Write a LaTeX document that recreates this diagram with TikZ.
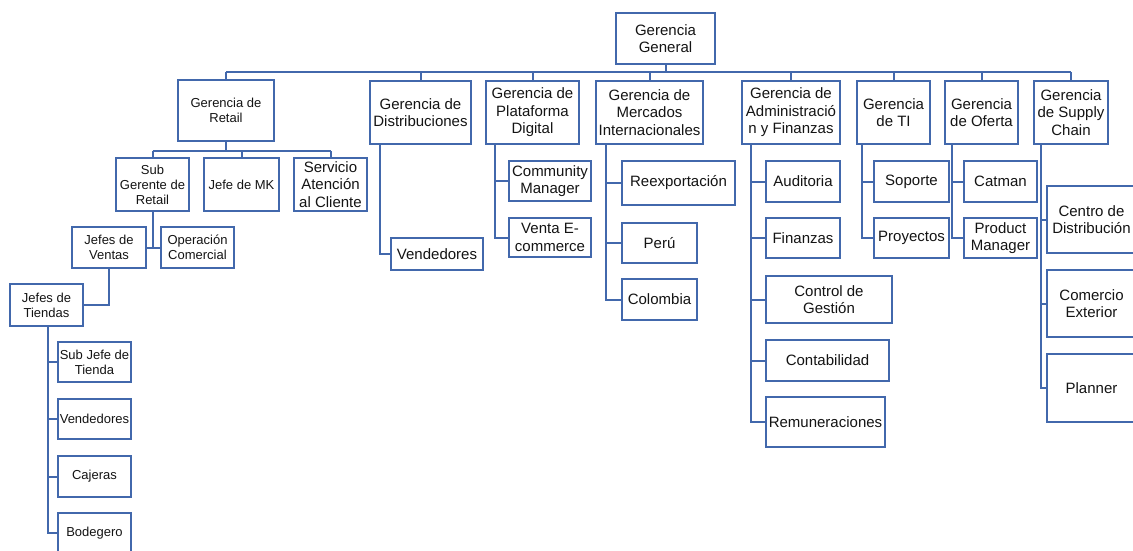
\documentclass[tikz,border=0pt]{standalone}
\usepackage{fontspec}
\setmainfont{Liberation Sans}
\definecolor{orgblue}{RGB}{66,104,172}
\definecolor{orgtext}{RGB}{20,20,20}
\tikzset{
  unit/.style={draw=orgblue, line width=2pt, fill=white, inner sep=0pt,
    align=center, text=orgtext, font=\fontsize{15}{17.5}\selectfont},
  smallunit/.style={unit, font=\fontsize{13}{15}\selectfont},
  link/.style={draw=orgblue, line width=2pt},
  sz/.style 2 args={minimum width=#1, minimum height=#2}
}
\begin{document}
\begin{tikzpicture}[x=1pt,y=-1pt]
\fill[white] (0,0) rectangle (1133,550);
\clip (0,0) rectangle (1133,550);

% top level
\node[unit, sz={99pt}{51pt}] (gg) at (665.5,38.5) {Gerencia\\General};

% Retail branch
\node[smallunit, sz={96pt}{61pt}] (retail) at (226,110.5) {Gerencia de\\Retail};
\node[smallunit, sz={73pt}{53pt}] (subg) at (152.5,184.5) {Sub\\Gerente de\\Retail};
\node[smallunit, sz={75pt}{53pt}] (mk) at (241.5,184.5) {Jefe de MK};
\node[unit, sz={73pt}{53pt}] (serv) at (330.5,184.5) {Servicio\\Atención\\al Cliente};
\node[smallunit, sz={74pt}{41pt}] (jv) at (109,247.5) {Jefes de\\Ventas};
\node[smallunit, sz={73pt}{41pt}] (oc) at (197.5,247.5) {Operación\\Comercial};
\node[smallunit, sz={73pt}{42pt}] (jt) at (46.5,305) {Jefes de\\Tiendas};
\node[smallunit, sz={73pt}{40pt}] (sjt) at (94.5,362) {Sub Jefe de\\Tienda};
\node[smallunit, sz={73pt}{40pt}] (vend1) at (94.5,419) {Vendedores};
\node[smallunit, sz={73pt}{41pt}] (caj) at (94.5,476.5) {Cajeras};
\node[smallunit, sz={73pt}{40pt}] (bod) at (94.5,533) {Bodegero};

% Distribuciones
\node[unit, sz={101pt}{63pt}] (dist) at (420.5,112.5) {Gerencia de\\Distribuciones};
\node[unit, sz={92pt}{32pt}] (vend2) at (437,254) {Vendedores};

% Plataforma Digital
\node[unit, sz={93pt}{63pt}] (plat) at (532.5,112.5) {Gerencia de\\Plataforma\\Digital};
\node[unit, sz={82pt}{40pt}] (cm) at (550,181) {Community\\Manager};
\node[unit, sz={82pt}{39pt}] (ve) at (550,237.5) {Venta E-\\commerce};

% Mercados Internacionales
\node[unit, sz={107pt}{63pt}] (merc) at (649.5,112.5) {Gerencia de\\Mercados\\Internacionales};
\node[unit, sz={113pt}{44pt}] (reex) at (678.5,183) {Reexportación};
\node[unit, sz={75pt}{40pt}] (peru) at (659.5,243) {Perú};
\node[unit, sz={75pt}{41pt}] (col) at (659.5,299.5) {Colombia};

% Administración y Finanzas
\node[unit, sz={98pt}{63pt}] (adm) at (791,112.5) {Gerencia de\\Administració\\n y Finanzas};
\node[unit, sz={74pt}{41pt}] (aud) at (803,181.5) {Auditoria};
\node[unit, sz={74pt}{40pt}] (fin) at (803,238) {Finanzas};
\node[unit, sz={126pt}{47pt}] (cg) at (829,299.5) {Control de\\Gestión};
\node[unit, sz={123pt}{41pt}] (cont) at (827.5,360.5) {Contabilidad};
\node[unit, sz={119pt}{50pt}] (rem) at (825.5,422) {Remuneraciones};

% TI
\node[unit, sz={73pt}{63pt}] (ti) at (893.5,112.5) {Gerencia\\de TI};
\node[unit, sz={75pt}{41pt}] (sop) at (911.5,181.5) {Soporte};
\node[unit, sz={75pt}{40pt}] (proy) at (911.5,238) {Proyectos};

% Oferta
\node[unit, sz={73pt}{63pt}] (of) at (981.5,112.5) {Gerencia\\de Oferta};
\node[unit, sz={73pt}{41pt}] (cat) at (1000.5,181.5) {Catman};
\node[unit, sz={73pt}{40pt}] (pm) at (1000.5,238) {Product\\Manager};

% Supply Chain
\node[unit, sz={74pt}{63pt}] (sc) at (1071,112.5) {Gerencia\\de Supply\\Chain};
\node[unit, sz={89pt}{67pt}] (cd) at (1091.5,219.5) {Centro de\\Distribución};
\node[unit, sz={89pt}{67pt}] (ce) at (1091.5,303.5) {Comercio\\Exterior};
\node[unit, sz={89pt}{68pt}] (pl) at (1091.5,388) {Planner};

% main bus
\coordinate (bus) at (0,72);
\draw[link] (gg.south) -- (gg.south |- bus);
\draw[link] (retail.north |- bus) -- (sc.north |- bus);
\foreach \n in {retail,dist,plat,merc,adm,ti,of,sc}
  \draw[link] (\n.north |- bus) -- (\n.north);

% retail connectors
\coordinate (rbus) at (0,151);
\draw[link] (retail.south) -- (retail.south |- rbus);
\draw[link] (subg.north |- rbus) -- (serv.north |- rbus);
\foreach \n in {subg,mk,serv}
  \draw[link] (\n.north |- rbus) -- (\n.north);
\draw[link] (subg.south) -- (subg.south |- jv.east);
\draw[link] (jv.east) -- (oc.west);
\draw[link] (jv.south) -- (jv.south |- jt.east) -- (jt.east);
\draw[link] (jt.south) ++(1.5,0) coordinate (jtl) -- (jtl |- bod.west) -- (bod.west);
\foreach \n in {sjt,vend1,caj}
  \draw[link] (jtl |- \n.west) -- (\n.west);

% distribuciones
\draw[link] (dist.south west) ++(11,0) coordinate (dl) -- (dl |- vend2.west) -- (vend2.west);

% plataforma digital
\draw[link] (plat.south west) ++(10,0) coordinate (pll) -- (pll |- ve.west) -- (ve.west);
\draw[link] (pll |- cm.west) -- (cm.west);

% mercados internacionales
\draw[link] (merc.south west) ++(11,0) coordinate (ml) -- (ml |- col.west) -- (col.west);
\foreach \n in {reex,peru}
  \draw[link] (ml |- \n.west) -- (\n.west);

% administración y finanzas
\draw[link] (adm.south west) ++(10,0) coordinate (al) -- (al |- rem.west) -- (rem.west);
\foreach \n in {aud,fin,cg,cont}
  \draw[link] (al |- \n.west) -- (\n.west);

% TI
\draw[link] (ti.south west) ++(6,0) coordinate (tl) -- (tl |- proy.west) -- (proy.west);
\draw[link] (tl |- sop.west) -- (sop.west);

% oferta
\draw[link] (of.south west) ++(8,0) coordinate (ol) -- (ol |- pm.west) -- (pm.west);
\draw[link] (ol |- cat.west) -- (cat.west);

% supply chain
\draw[link] (sc.south west) ++(8,0) coordinate (sl) -- (sl |- pl.west) -- (pl.west);
\foreach \n in {cd,ce}
  \draw[link] (sl |- \n.west) -- (\n.west);
\end{tikzpicture}
\end{document}
